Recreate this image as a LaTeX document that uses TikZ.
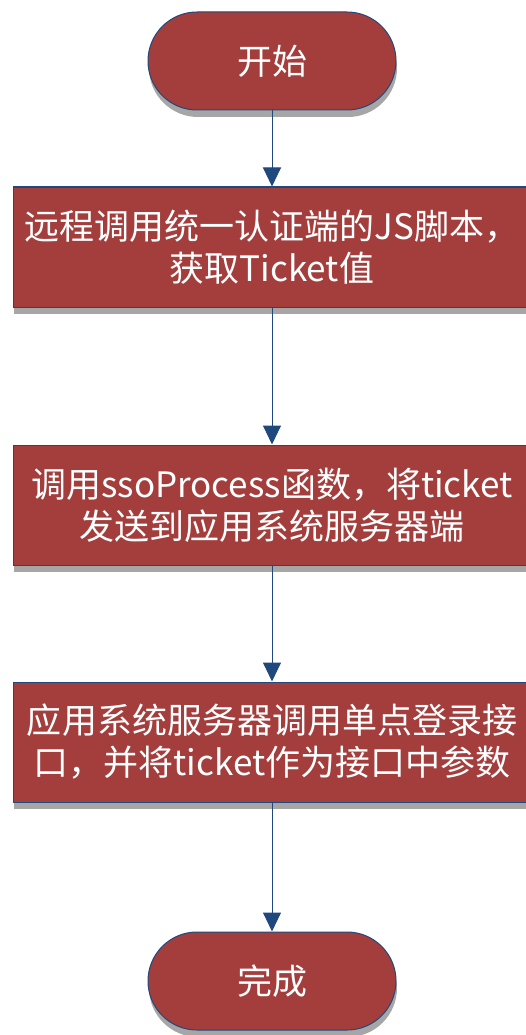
\documentclass[tikz,border=0pt]{standalone}
\usepackage{fontspec}
\setmainfont{Noto Sans CJK SC}
\usetikzlibrary{arrows.meta,shadows}
\definecolor{boxred}{HTML}{A33E3D}
\definecolor{edgeblue}{HTML}{1F497D}
\definecolor{shadowgray}{HTML}{A6A6A6}

\begin{document}
\begin{tikzpicture}
    [x=1pt,y=-1pt,
     every node/.style={draw=edgeblue,line width=1pt,fill=boxred,text=white,
       font=\fontsize{35pt}{42pt}\selectfont,align=center,inner sep=0pt,
       drop shadow={shadow xshift=1pt,shadow yshift=-7pt,fill=shadowgray,opacity=1}},
     term/.style={minimum width=248pt,minimum height=98pt,rounded corners=49pt},
     stepbox/.style={minimum width=518pt,minimum height=120pt},
     flow/.style={draw=edgeblue,line width=1pt,-{Triangle[length=19pt,width=18pt]}}]
    \useasboundingbox (0,0) rectangle (525,1035);
    \node[term] (start) at (272,61) {开始};
    \node[stepbox] (s1) at (272,247) {远程调用统一认证端的JS脚本，\\获取Ticket值};
    \node[stepbox] (s2) at (272,505) {调用ssoProcess函数，将ticket\\发送到应用系统服务器端};
    \node[stepbox] (s3) at (272,742) {应用系统服务器调用单点登录接\\口，并将ticket作为接口中参数};
    \node[term] (done) at (272,981) {完成};
    \draw[flow] (start) -- (s1) ;
    \draw[flow] (s1) -- (s2) ;
    \draw[flow] (s2) -- (s3) ;
    \draw[flow] (s3) -- (done) ;
\end{tikzpicture}
\end{document}
